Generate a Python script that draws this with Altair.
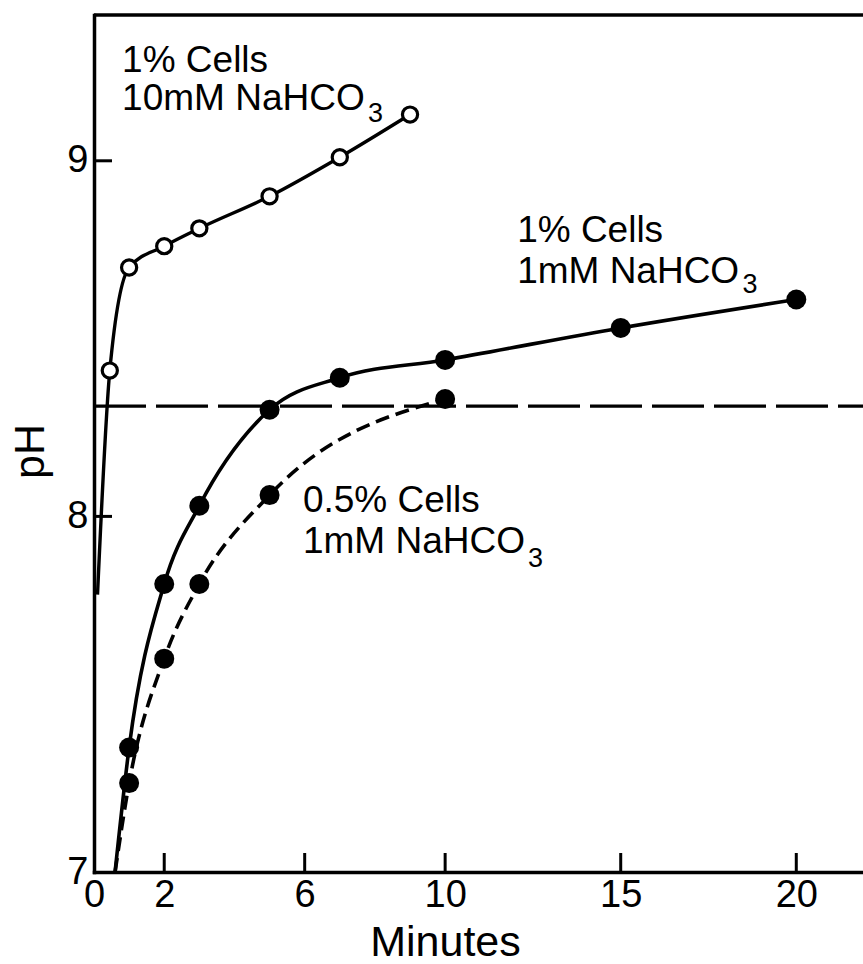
import altair as alt
import pandas as pd

FONT = "Liberation Sans"

# ---- data ----
# 1% cells, 10 mM NaHCO3 (open circles)
open_min = [0.45, 1, 2, 3, 5, 7, 9]
open_ph = [8.41, 8.70, 8.76, 8.81, 8.90, 9.01, 9.13]
open_curve_start_min = [0.1]
open_curve_start_ph = [7.78]

# 1% cells, 1 mM NaHCO3 (filled circles, solid line)
one_min = [1, 2, 3, 5, 7, 10, 15, 20]
one_ph = [7.35, 7.81, 8.03, 8.30, 8.39, 8.44, 8.53, 8.61]

# 0.5% cells, 1 mM NaHCO3 (filled circles, dashed line)
half_min = [1, 2, 3, 5, 10]
half_ph = [7.25, 7.60, 7.81, 8.06, 8.33]

# both 1 mM curves start from the x axis here
curve_start_min = [0.6]
curve_start_ph = [7.0]

# horizontal reference level
ref_ph = [8.31]

x_tick_values = [0, 2, 6, 10, 15, 20]
y_tick_values = [7, 8, 9]
x_inner_ticks = [2, 6, 10, 15, 20]
y_inner_ticks = [8, 9]

label_lines = ["1% Cells", "10mM NaHCO", "1% Cells", "1mM NaHCO", "0.5% Cells", "1mM NaHCO"]
label_min = [0.80, 0.80, 12.05, 12.05, 5.95, 5.95]
label_ph = [9.250, 9.143, 8.772, 8.657, 8.013, 7.897]

sub_text = ["3", "3", "3"]
sub_min = [7.80, 18.47, 12.36]
sub_ph = [9.110, 8.629, 7.858]

W, H = 769, 857

# ---- tables ----
open_pts = pd.DataFrame({"min": open_min, "ph": open_ph})
open_line = pd.DataFrame({"min": open_curve_start_min + open_min,
                          "ph": open_curve_start_ph + open_ph})
one_pts = pd.DataFrame({"min": one_min, "ph": one_ph})
one_line = pd.DataFrame({"min": curve_start_min + one_min, "ph": curve_start_ph + one_ph})
half_pts = pd.DataFrame({"min": half_min, "ph": half_ph})
half_line = pd.DataFrame({"min": curve_start_min + half_min, "ph": curve_start_ph + half_ph})
labels = pd.DataFrame({"min": label_min, "ph": label_ph, "text": label_lines})
subs = pd.DataFrame({"min": sub_min, "ph": sub_ph, "text": sub_text})

x_axis = alt.Axis(values=x_tick_values, grid=False, ticks=False, domainColor="black",
                  domainWidth=3.5, domainCap="square", labelFont=FONT, labelFontSize=38,
                  labelColor="black", labelPadding=4, labelFlush=False, labelOverlap=False,
                  title="Minutes", titleFont=FONT, titleFontSize=43, titleFontWeight="normal",
                  titleColor="black", titleX=351, titleY=83, titleBaseline="alphabetic",
                  titleAlign="center")
y_axis = alt.Axis(values=y_tick_values, grid=False, ticks=False, domainColor="black",
                  domainWidth=3.5, domainCap="square", labelFont=FONT, labelFontSize=38,
                  labelColor="black", labelPadding=6, labelFlush=False, labelOverlap=False,
                  title="pH", titleFont=FONT, titleFontSize=43, titleFontWeight="normal",
                  titleColor="black", titleAngle=270, titleX=-51, titleY=436,
                  titleBaseline="alphabetic", titleAlign="center")

xs = alt.Scale(domain=[0, 21.9], nice=False, zero=False)
ys = alt.Scale(domain=[7, 9.41], nice=False, zero=False)

def X(field="min"):
    return alt.X(f"{field}:Q", scale=xs, axis=x_axis)

def Y(field="ph"):
    return alt.Y(f"{field}:Q", scale=ys, axis=y_axis)

ref_rule = alt.Chart(pd.DataFrame({"ph": ref_ph})).mark_rule(
    color="black", strokeWidth=3.2, strokeDash=[52, 10]
).encode(y=Y(), x=alt.value(0), x2=alt.value(W))

line_open = alt.Chart(open_line).mark_line(
    color="black", strokeWidth=3.4, interpolate="monotone"
).encode(x=X(), y=Y())
line_one = alt.Chart(one_line).mark_line(
    color="black", strokeWidth=3.6, interpolate="monotone"
).encode(x=X(), y=Y())
line_half = alt.Chart(half_line).mark_line(
    color="black", strokeWidth=3.6, interpolate="monotone", strokeDash=[14, 7]
).encode(x=X(), y=Y())

pts_one = alt.Chart(one_pts).mark_point(
    shape="circle", filled=True, color="black", size=400, opacity=1
).encode(x=X(), y=Y())
pts_half = alt.Chart(half_pts).mark_point(
    shape="circle", filled=True, color="black", size=400, opacity=1
).encode(x=X(), y=Y())
pts_open = alt.Chart(open_pts).mark_point(
    shape="circle", filled=True, fill="white", stroke="black", strokeWidth=3.2,
    size=230, opacity=1
).encode(x=X(), y=Y())

xticks = alt.Chart(pd.DataFrame({"min": x_inner_ticks})).mark_rule(
    color="black", strokeWidth=3
).encode(x=X(), y=alt.value(H), y2=alt.value(H - 19))
yticks = alt.Chart(pd.DataFrame({"ph": y_inner_ticks})).mark_rule(
    color="black", strokeWidth=3
).encode(y=Y(), x=alt.value(0), x2=alt.value(18))
top_border = alt.Chart(pd.DataFrame({"ph": [9.41]})).mark_rule(
    color="black", strokeWidth=3.5
).encode(y=alt.value(0), x=alt.value(0), x2=alt.value(W))

texts = alt.Chart(labels).mark_text(
    align="left", baseline="alphabetic", font=FONT, fontSize=37, color="black"
).encode(x=X(), y=Y(), text="text:N")
sub_marks = alt.Chart(subs).mark_text(
    align="left", baseline="alphabetic", font=FONT, fontSize=27, color="black"
).encode(x=X(), y=Y(), text="text:N")

chart = alt.layer(
    ref_rule, line_open, line_one, line_half, pts_one, pts_half, pts_open,
    xticks, yticks, top_border, texts, sub_marks
).properties(
    width=W, height=H,
    autosize="none",
    padding={"left": 94, "top": 15, "right": 0, "bottom": 92},
    background="white",
).configure_view(stroke=None)

chart.save("out.html", embed_options={"renderer": "svg", "actions": False})
